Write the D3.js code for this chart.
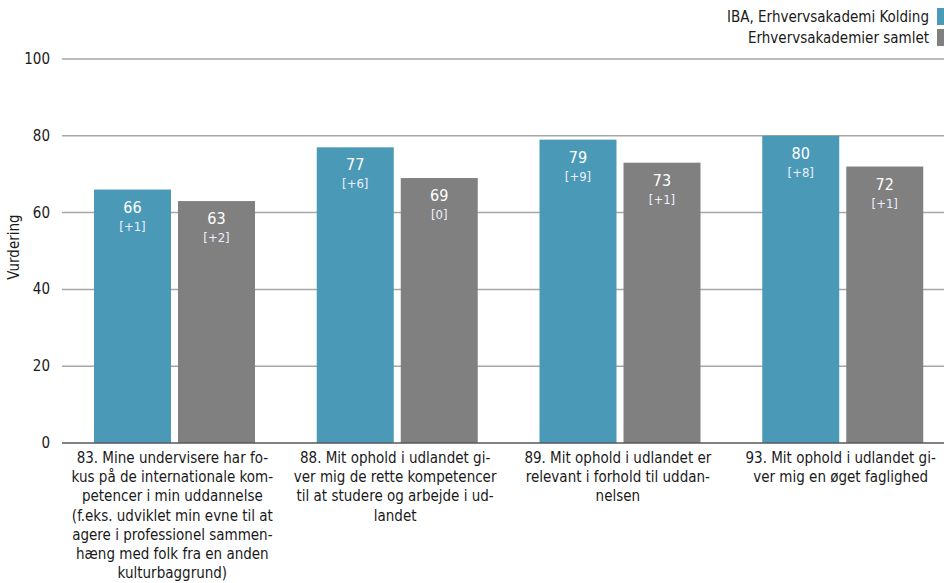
<!DOCTYPE html>
<html><head><meta charset="utf-8">
<script src="https://cdn.jsdelivr.net/npm/d3@7"></script>
<style>
body{margin:0;background:#fff;}
text{font-family:"DejaVu Sans Condensed","DejaVu Sans",sans-serif;}
</style></head>
<body><svg id="c" width="944" height="583"></svg>
<script>
const categories = ["83","88","89","93"];
const categoryLines = [
 ["83. Mine undervisere har fo-","kus på de internationale kom-","petencer i min uddannelse","(f.eks. udviklet min evne til at","agere i professionel sammen-","hæng med folk fra en anden","kulturbaggrund)"],
 ["88. Mit ophold i udlandet gi-","ver mig de rette kompetencer","til at studere og arbejde i ud-","landet"],
 ["89. Mit ophold i udlandet er","relevant i forhold til uddan-","nelsen"],
 ["93. Mit ophold i udlandet gi-","ver mig en øget faglighed"]
];
const seriesNames = ["IBA, Erhvervsakademi Kolding","Erhvervsakademier samlet"];
const ibaValues = [66,77,79,80];
const ibaDiff = ["[+1]","[+6]","[+9]","[+8]"];
const allValues = [63,69,73,72];
const allDiff = ["[+2]","[0]","[+1]","[+1]"];
const yTicks = [0,20,40,60,80,100];
const colors = ["#4a9ab7","#808080"];

const svg = d3.select("#c");
const y = d3.scaleLinear().domain([0,100]).range([443,59]);
const x = d3.scaleBand().domain(categories).range([62,953]).paddingInner(0).paddingOuter(0);
const inner = d3.scaleBand().domain([0,1]).range([32,193]).paddingInner(7/84);

// gridlines
svg.append("g").selectAll("line").data(yTicks.filter(d=>d>0)).join("line")
  .attr("x1",62).attr("x2",944).attr("y1",d=>y(d)).attr("y2",d=>y(d))
  .attr("stroke","#a6a6a6").attr("stroke-width",1.5);
svg.append("g").selectAll("text").data(yTicks).join("text")
  .attr("x",50).attr("y",d=>y(d)+5).attr("text-anchor","end")
  .attr("font-size",15).attr("fill","#1a1a1a").text(d=>d);

svg.append("text").attr("transform","translate(19,247) rotate(-90)")
  .attr("text-anchor","middle").attr("font-size",15).attr("fill","#1a1a1a").text("Vurdering");

const series = [
  {vals:ibaValues, diff:ibaDiff},
  {vals:allValues, diff:allDiff}
];
series.forEach((s,si)=>{
  const g = svg.append("g");
  categories.forEach((c,i)=>{
    const bx = x(c)+inner(si), bw = inner.bandwidth(), top = y(s.vals[i]);
    g.append("rect").attr("x",bx).attr("y",top).attr("width",bw).attr("height",y(0)-top).attr("fill",colors[si]);
    g.append("text").attr("x",bx+bw/2).attr("y",top+23).attr("text-anchor","middle")
      .attr("font-size",16).attr("fill","#fff").text(s.vals[i]);
    g.append("text").attr("x",bx+bw/2).attr("y",top+41).attr("text-anchor","middle")
      .attr("font-size",13).attr("fill","#eef").text(s.diff[i]);
  });
});

// baseline
svg.append("line").attr("x1",62).attr("x2",944).attr("y1",y(0)).attr("y2",y(0))
  .attr("stroke","#595959").attr("stroke-width",1.5);

// x labels
categories.forEach((c,i)=>{
  const t = svg.append("text").attr("text-anchor","middle").attr("font-size",15).attr("fill","#1a1a1a");
  categoryLines[i].forEach((ln,j)=>{
    t.append("tspan").attr("x",x(c)+x.bandwidth()/2 - 1).attr("y",463+j*19.2).text(ln);
  });
});

// legend
seriesNames.forEach((n,i)=>{
  svg.append("rect").attr("x",937).attr("y",8+i*21).attr("width",12).attr("height",17).attr("fill",colors[i]);
  svg.append("text").attr("x",929).attr("y",22+i*21).attr("text-anchor","end")
    .attr("font-size",15).attr("fill","#1a1a1a").text(n);
});
</script></body></html>
